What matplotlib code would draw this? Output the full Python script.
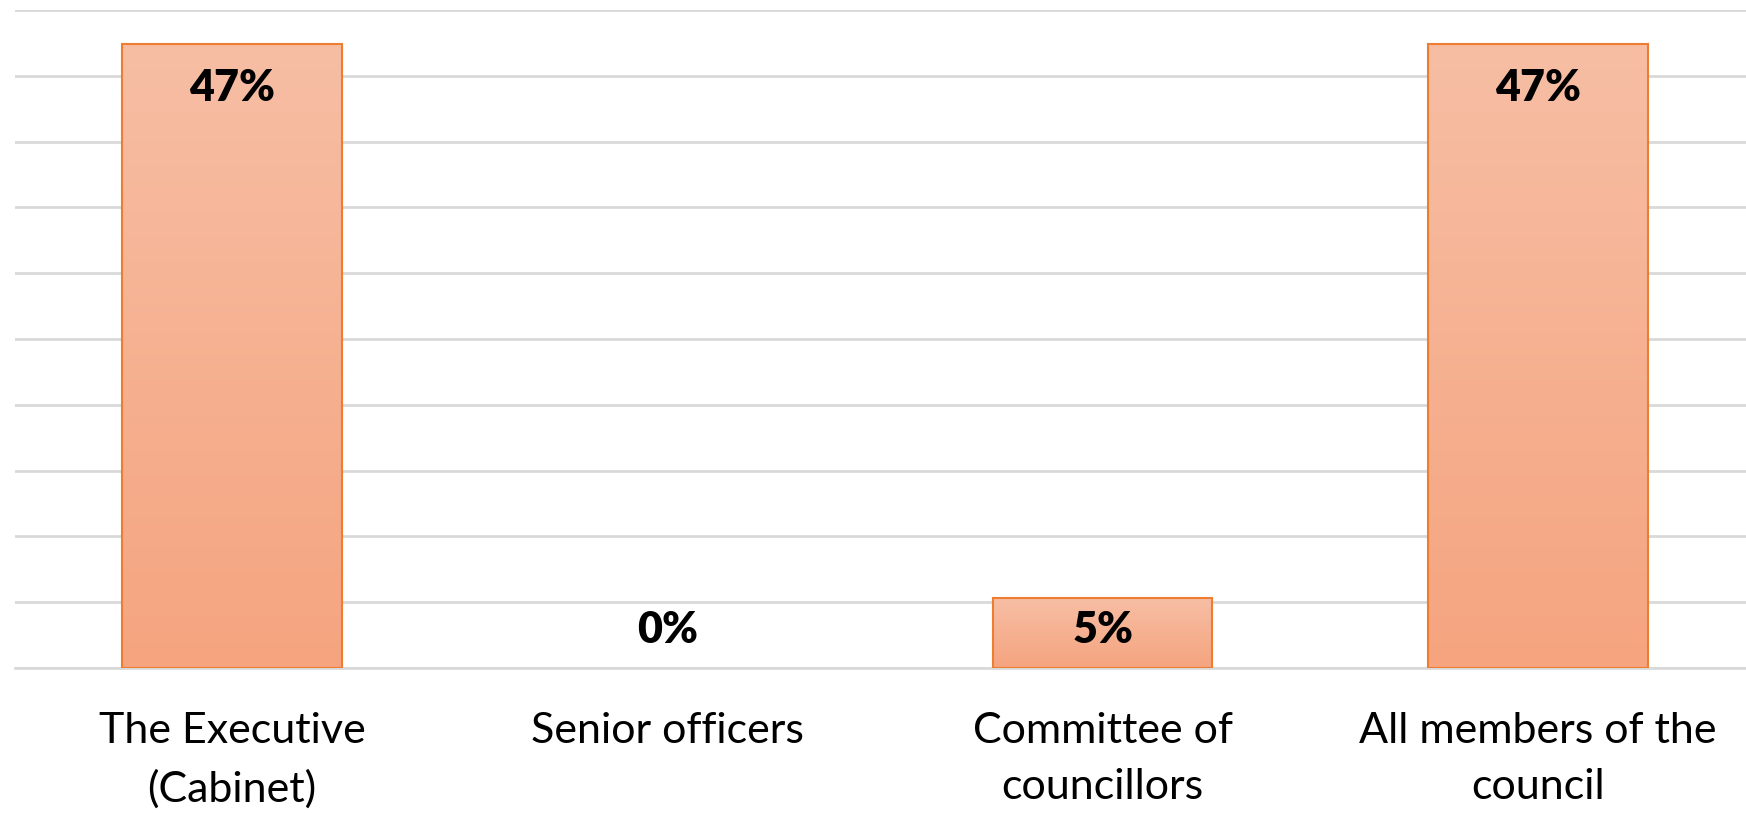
import matplotlib
matplotlib.use("Agg")
import matplotlib.pyplot as plt
import numpy as np
from matplotlib.colors import LinearSegmentedColormap

categories = ["The Executive\n(Cabinet)", "Senior officers", "Committee of\ncouncillors", "All members of the\ncouncil"]
values = [47.4, 0.0, 5.3, 47.4]
labels = ["47%", "0%", "5%", "47%"]

plt.rcParams['font.family'] = ['Lato', 'DejaVu Sans']

fig = plt.figure(figsize=(17.46, 8.13), dpi=100)
ax = fig.add_axes([14.5/1746, (813-668)/813, 1741/1746, (668-10)/813])

x = np.arange(len(categories))
width = 0.504
bars = ax.bar(x, values, width=width, facecolor='none', edgecolor='#ED7D31', linewidth=1.5, zorder=3)
for b in bars:
    if b.get_height() <= 0:
        b.set_linewidth(0)

cmap = LinearSegmentedColormap.from_list('g', ['#F5A47F', '#F7BEA4'])
grad = np.linspace(0, 1, 256).reshape(-1, 1)
for b in bars:
    h = b.get_height()
    if h <= 0:
        continue
    x0 = b.get_x()
    ax.imshow(grad, cmap=cmap, aspect='auto', origin='lower',
              extent=[x0, x0 + b.get_width(), 0, h], zorder=2)

for xi, v, lab in zip(x, values, labels):
    ly = max(v - 3.3, 2.9)
    ax.text(xi, ly, lab, ha='center', va='center', fontsize=31, fontweight='heavy', color='black', zorder=4)

ax.set_xlim(-0.5, len(categories) - 0.5)
ax.set_ylim(0, 50)
ax.set_yticks(np.arange(0, 51, 5))
ax.yaxis.grid(True, color='#D9D9D9', linewidth=2)
ax.set_axisbelow(True)
ax.tick_params(axis='y', left=False, labelleft=False)
ax.tick_params(axis='x', bottom=False, pad=28)
ax.set_xticks(x)
ax.set_xticklabels(categories, fontsize=31, linespacing=1.6)
for s in ['top', 'right', 'left']:
    ax.spines[s].set_visible(False)
ax.spines['bottom'].set_color('#D9D9D9')
ax.spines['bottom'].set_linewidth(2)

fig.savefig('out.png', dpi=100)
